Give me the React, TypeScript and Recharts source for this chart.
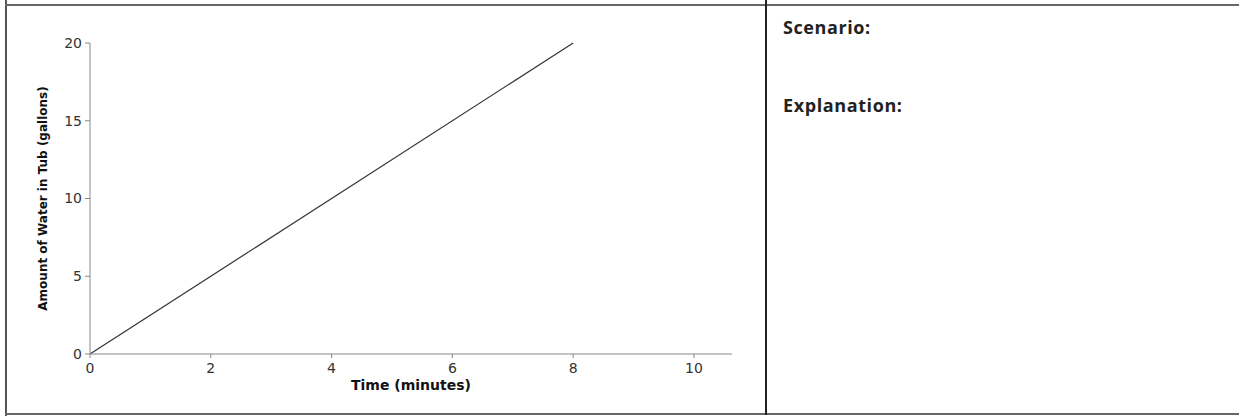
import { LineChart, Line, XAxis, YAxis } from "recharts";

// time in minutes vs gallons in tub
const timeValues = [0, 8];
const waterValues = [0, 20];
const xTicks = [0, 2, 4, 6, 8, 10];
const yTicks = [0, 5, 10, 15, 20];

const chartData = timeValues.map((t, i) => ({ time: t, water: waterValues[i] }));

const tickStyle = { fill: "#333", fontSize: 14, fontFamily: "Verdana, 'DejaVu Sans', sans-serif" };
const titleStyle = { fill: "#111", fontSize: 12, fontWeight: 700, fontFamily: "Verdana, 'DejaVu Sans', sans-serif" };

export default function App() {
  return (
    <div style={{ position: "absolute", left: 0, top: 0, width: 1239, height: 417, background: "#fff", overflow: "hidden" }}>
      {/* table frame */}
      <div style={{ position: "absolute", left: 5, top: 0, width: 2, height: 416, background: "#555" }} />
      <div style={{ position: "absolute", left: 5, top: 4, width: 1234, height: 2, background: "#666" }} />
      <div style={{ position: "absolute", left: 5, top: 413, width: 1234, height: 2, background: "#666" }} />
      <div style={{ position: "absolute", left: 765, top: 0, width: 2, height: 415, background: "#222" }} />

      <div style={{ position: "absolute", left: 0, top: 0 }}>
        <LineChart width={760} height={417} data={chartData} margin={{ top: 43, right: 28, bottom: 41, left: 35 }}>
          <XAxis
            dataKey="time"
            type="number"
            domain={[0, 10.63]}
            ticks={xTicks}
            interval={0}
            height={22}
            tickSize={4}
            tickMargin={5}
            axisLine={{ stroke: "#888" }}
            tickLine={{ stroke: "#888" }}
            tick={tickStyle}
            label={{ value: "Time (minutes)", position: "bottom", offset: 4, style: { ...titleStyle, fontSize: 14 } }}
          />
          <YAxis
            type="number"
            domain={[0, 20]}
            ticks={yTicks}
            interval={0}
            width={55}
            tickSize={5}
            tickMargin={3}
            axisLine={{ stroke: "#888" }}
            tickLine={{ stroke: "#888" }}
            tick={tickStyle}
            label={{
              value: "Amount of Water in Tub (gallons)",
              angle: -90,
              position: "insideLeft",
              offset: 8,
              style: { ...titleStyle, textAnchor: "middle" },
            }}
          />
          <Line
            dataKey="water"
            type="linear"
            stroke="#333"
            strokeWidth={1.2}
            dot={false}
            isAnimationActive={false}
          />
        </LineChart>
      </div>

      <div style={{ position: "absolute", left: 783, top: 15, fontFamily: "Open Sans", fontWeight: 700, fontSize: 18, letterSpacing: 0.6, color: "#222", lineHeight: "24px" }}>
        Scenario:
      </div>
      <div style={{ position: "absolute", left: 783, top: 93, fontFamily: "Open Sans", fontWeight: 700, fontSize: 18, letterSpacing: 0.6, color: "#222", lineHeight: "24px" }}>
        Explanation:
      </div>
    </div>
  );
}
